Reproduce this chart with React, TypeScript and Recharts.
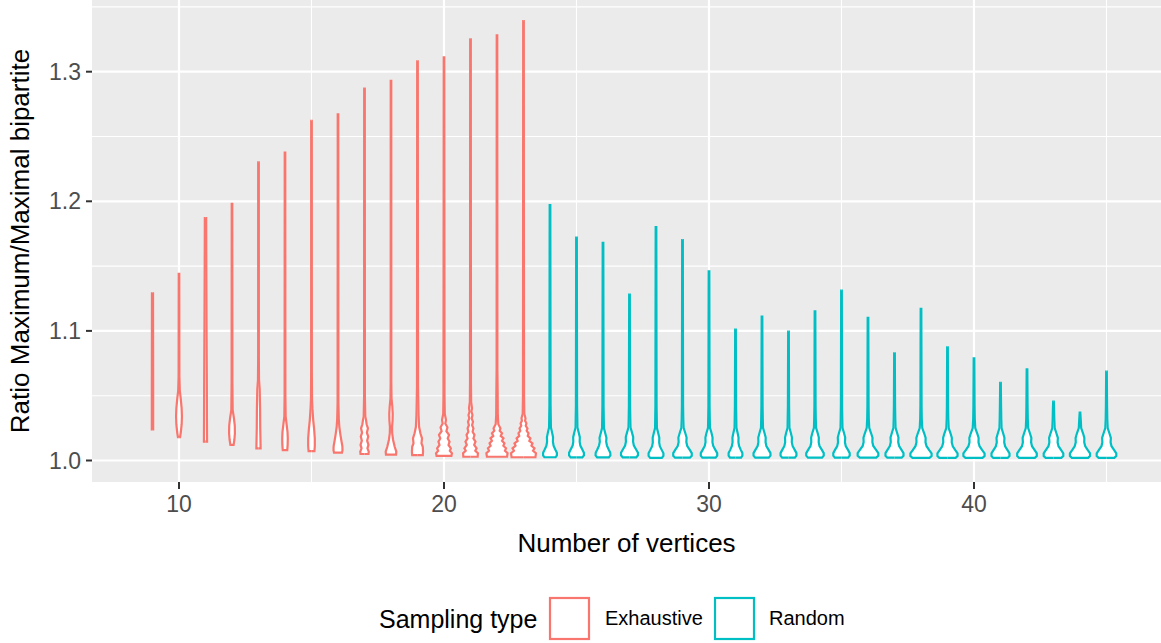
import { ComposedChart, Area, XAxis, YAxis, CartesianGrid, Label } from 'recharts';

// Violin outlines: each entry is [ratio, half width in vertices], bottom to top
const exhaustiveVertices = [9, 10, 11, 12, 13, 14, 15, 16, 17, 18, 19, 20, 21, 22, 23];
const randomVertices = [24, 25, 26, 27, 28, 29, 30, 31, 32, 33, 34, 35, 36, 37, 38, 39, 40, 41, 42, 43, 44, 45];

const exhaustiveProfiles: [number, number][][] = [
  [[1.024, 0.025], [1.06, 0.025], [1.1, 0.022], [1.129, 0.02]],
  [[1.018, 0.04], [1.022, 0.07], [1.028, 0.1], [1.034, 0.11], [1.04, 0.1], [1.047, 0.07], [1.054, 0.03], [1.065, 0.015], [1.144, 0.01]],
  [[1.0145, 0.06], [1.03, 0.055], [1.06, 0.05], [1.1, 0.04], [1.15, 0.03], [1.187, 0.025]],
  [[1.012, 0.06], [1.016, 0.09], [1.021, 0.11], [1.027, 0.105], [1.033, 0.07], [1.039, 0.025], [1.06, 0.015], [1.198, 0.01]],
  [[1.0094, 0.08], [1.015, 0.075], [1.025, 0.065], [1.04, 0.06], [1.055, 0.045], [1.062, 0.02], [1.08, 0.012], [1.23, 0.01]],
  [[1.008, 0.085], [1.012, 0.1], [1.017, 0.105], [1.022, 0.095], [1.028, 0.06], [1.034, 0.025], [1.05, 0.015], [1.2375, 0.01]],
  [[1.0073, 0.11], [1.011, 0.125], [1.017, 0.125], [1.024, 0.1], [1.031, 0.065], [1.04, 0.035], [1.047, 0.02], [1.07, 0.012], [1.262, 0.01]],
  [[1.006, 0.15], [1.008, 0.17], [1.011, 0.165], [1.015, 0.13], [1.02, 0.09], [1.026, 0.05], [1.032, 0.03], [1.045, 0.015], [1.267, 0.01]],
  [[1.005, 0.15], [1.0068, 0.16], [1.0094, 0.11], [1.012, 0.15], [1.0153, 0.1], [1.0184, 0.14], [1.0215, 0.09], [1.0248, 0.13], [1.028, 0.08], [1.031, 0.06], [1.034, 0.03], [1.05, 0.015], [1.287, 0.01]],
  [[1.0045, 0.19], [1.0068, 0.2], [1.0106, 0.14], [1.0158, 0.08], [1.021, 0.045], [1.026, 0.04], [1.031, 0.06], [1.036, 0.065], [1.0415, 0.05], [1.048, 0.02], [1.06, 0.012], [1.293, 0.01]],
  [[1.0042, 0.2], [1.0068, 0.21], [1.0106, 0.2], [1.0133, 0.15], [1.017, 0.17], [1.021, 0.11], [1.026, 0.06], [1.035, 0.04], [1.045, 0.03], [1.057, 0.02], [1.308, 0.01]],
  [[1.0035, 0.28], [1.0056, 0.3], [1.0075, 0.22], [1.0094, 0.26], [1.012, 0.17], [1.0145, 0.21], [1.017, 0.14], [1.0197, 0.19], [1.0226, 0.09], [1.0256, 0.13], [1.0285, 0.05], [1.0313, 0.075], [1.036, 0.03], [1.05, 0.02], [1.311, 0.01]],
  [[1.0029, 0.27], [1.0056, 0.28], [1.0075, 0.18], [1.0094, 0.23], [1.012, 0.14], [1.0145, 0.19], [1.017, 0.11], [1.0197, 0.15], [1.0222, 0.08], [1.0248, 0.11], [1.0273, 0.06], [1.0299, 0.094], [1.0325, 0.045], [1.0351, 0.075], [1.0377, 0.035], [1.0403, 0.057], [1.045, 0.025], [1.06, 0.018], [1.325, 0.01]],
  [[1.0029, 0.38], [1.0056, 0.4], [1.0075, 0.3], [1.0094, 0.34], [1.0114, 0.24], [1.0133, 0.28], [1.0152, 0.19], [1.0171, 0.245], [1.019, 0.14], [1.021, 0.19], [1.0229, 0.1], [1.0248, 0.13], [1.028, 0.05], [1.035, 0.03], [1.052, 0.025], [1.07, 0.015], [1.328, 0.01]],
  [[1.0025, 0.45], [1.0056, 0.47], [1.0075, 0.36], [1.0094, 0.415], [1.0114, 0.3], [1.0133, 0.34], [1.0152, 0.22], [1.0171, 0.26], [1.019, 0.16], [1.021, 0.19], [1.0229, 0.12], [1.0248, 0.15], [1.0268, 0.085], [1.0287, 0.11], [1.0307, 0.06], [1.0326, 0.075], [1.036, 0.03], [1.05, 0.02], [1.339, 0.01]],
];

const randomProfiles: [number, number][][] = [
  [[1.0025, 0.21], [1.004, 0.26], [1.006, 0.26], [1.0085, 0.2], [1.0115, 0.135], [1.0145, 0.11], [1.018, 0.115], [1.0215, 0.08], [1.0255, 0.035], [1.0325, 0.03], [1.0425, 0.022], [1.197, 0.012]],
  [[1.0024, 0.22], [1.004, 0.28], [1.006, 0.28], [1.0085, 0.22], [1.0115, 0.145], [1.0145, 0.12], [1.018, 0.125], [1.0215, 0.085], [1.0255, 0.035], [1.0325, 0.03], [1.0425, 0.022], [1.172, 0.012]],
  [[1.0024, 0.22], [1.004, 0.28], [1.006, 0.275], [1.0085, 0.215], [1.0115, 0.15], [1.0145, 0.12], [1.0175, 0.13], [1.021, 0.085], [1.025, 0.035], [1.032, 0.03], [1.042, 0.022], [1.168, 0.012]],
  [[1.0024, 0.255], [1.004, 0.32], [1.006, 0.32], [1.0085, 0.25], [1.0115, 0.165], [1.0145, 0.135], [1.018, 0.14], [1.0215, 0.095], [1.0255, 0.038], [1.0325, 0.03], [1.0425, 0.022], [1.128, 0.012]],
  [[1.002, 0.22], [1.0035, 0.28], [1.0055, 0.28], [1.008, 0.22], [1.011, 0.145], [1.014, 0.12], [1.0175, 0.125], [1.021, 0.085], [1.025, 0.035], [1.032, 0.03], [1.042, 0.022], [1.18, 0.012]],
  [[1.0022, 0.28], [1.0037, 0.35], [1.0057, 0.35], [1.0082, 0.275], [1.0112, 0.18], [1.0142, 0.145], [1.0177, 0.155], [1.0212, 0.105], [1.0252, 0.042], [1.0322, 0.03], [1.0422, 0.022], [1.17, 0.012]],
  [[1.0022, 0.25], [1.0037, 0.31], [1.0057, 0.31], [1.0082, 0.24], [1.0112, 0.16], [1.0142, 0.13], [1.0177, 0.135], [1.0212, 0.095], [1.0252, 0.037], [1.0322, 0.03], [1.0422, 0.022], [1.146, 0.012]],
  [[1.0022, 0.21], [1.0037, 0.26], [1.0057, 0.26], [1.0082, 0.2], [1.0112, 0.135], [1.0142, 0.11], [1.0177, 0.115], [1.0212, 0.08], [1.0252, 0.035], [1.0322, 0.03], [1.0422, 0.022], [1.101, 0.012]],
  [[1.0022, 0.255], [1.0037, 0.32], [1.0057, 0.32], [1.0082, 0.25], [1.0112, 0.165], [1.0142, 0.135], [1.0177, 0.14], [1.0212, 0.095], [1.0252, 0.038], [1.0322, 0.03], [1.0422, 0.022], [1.111, 0.012]],
  [[1.0022, 0.24], [1.0037, 0.3], [1.0057, 0.3], [1.0082, 0.235], [1.0112, 0.155], [1.0142, 0.125], [1.0177, 0.13], [1.0212, 0.09], [1.0252, 0.035], [1.0322, 0.03], [1.0422, 0.022], [1.0994, 0.012]],
  [[1.0022, 0.265], [1.0037, 0.33], [1.0057, 0.33], [1.0082, 0.26], [1.0112, 0.17], [1.0142, 0.14], [1.0177, 0.145], [1.0212, 0.1], [1.0252, 0.04], [1.0322, 0.03], [1.0422, 0.022], [1.115, 0.012]],
  [[1.0022, 0.25], [1.0037, 0.31], [1.0057, 0.31], [1.0082, 0.245], [1.0112, 0.16], [1.0142, 0.13], [1.0177, 0.14], [1.0212, 0.095], [1.0252, 0.037], [1.0322, 0.03], [1.0422, 0.022], [1.131, 0.012]],
  [[1.0022, 0.31], [1.0037, 0.39], [1.0057, 0.39], [1.0082, 0.305], [1.0112, 0.2], [1.0142, 0.165], [1.0177, 0.17], [1.0212, 0.115], [1.0252, 0.047], [1.0322, 0.03], [1.0422, 0.022], [1.11, 0.012]],
  [[1.0022, 0.27], [1.0037, 0.34], [1.0057, 0.34], [1.0082, 0.265], [1.0112, 0.175], [1.0142, 0.14], [1.0177, 0.15], [1.0212, 0.1], [1.0252, 0.04], [1.0322, 0.03], [1.0422, 0.022], [1.0827, 0.012]],
  [[1.002, 0.32], [1.0035, 0.4], [1.0055, 0.4], [1.008, 0.31], [1.011, 0.21], [1.014, 0.17], [1.0175, 0.175], [1.021, 0.12], [1.025, 0.048], [1.032, 0.03], [1.042, 0.022], [1.117, 0.012]],
  [[1.002, 0.305], [1.0035, 0.38], [1.0055, 0.38], [1.008, 0.295], [1.011, 0.2], [1.014, 0.16], [1.0175, 0.165], [1.021, 0.115], [1.025, 0.045], [1.032, 0.03], [1.042, 0.022], [1.0873, 0.012]],
  [[1.002, 0.32], [1.0035, 0.4], [1.0055, 0.4], [1.008, 0.31], [1.011, 0.21], [1.014, 0.17], [1.0175, 0.175], [1.021, 0.12], [1.025, 0.048], [1.032, 0.03], [1.042, 0.022], [1.0789, 0.012]],
  [[1.002, 0.27], [1.0035, 0.34], [1.0055, 0.34], [1.008, 0.265], [1.011, 0.175], [1.014, 0.14], [1.0175, 0.15], [1.021, 0.1], [1.025, 0.04], [1.032, 0.03], [1.042, 0.022], [1.06, 0.012]],
  [[1.002, 0.295], [1.0035, 0.37], [1.0055, 0.37], [1.008, 0.29], [1.011, 0.19], [1.014, 0.155], [1.0175, 0.165], [1.021, 0.11], [1.025, 0.045], [1.032, 0.03], [1.042, 0.022], [1.0704, 0.012]],
  [[1.002, 0.295], [1.0035, 0.37], [1.0055, 0.37], [1.008, 0.29], [1.011, 0.19], [1.014, 0.155], [1.0175, 0.165], [1.021, 0.11], [1.025, 0.045], [1.032, 0.03], [1.04, 0.022], [1.0454, 0.012]],
  [[1.002, 0.305], [1.0035, 0.38], [1.0055, 0.38], [1.008, 0.295], [1.011, 0.2], [1.014, 0.16], [1.0175, 0.165], [1.021, 0.115], [1.025, 0.045], [1.031, 0.03], [1.0369, 0.012]],
  [[1.002, 0.295], [1.0035, 0.37], [1.0055, 0.37], [1.008, 0.29], [1.011, 0.19], [1.014, 0.155], [1.0175, 0.165], [1.021, 0.11], [1.025, 0.045], [1.032, 0.03], [1.042, 0.022], [1.0685, 0.012]],
];

const xTicks = [10, 20, 30, 40];
const xMinor = [15, 25, 35, 45];
const yTicks = [1.0, 1.1, 1.2, 1.3];
const yMinor = [1.05, 1.15, 1.25, 1.35];

const EXHAUSTIVE = '#F8766D';
const RANDOM = '#00BFC4';
const FONT = '"Liberation Sans", Arial, Helvetica, sans-serif';

// close each outline at its ends so the flat trimmed bottom is stroked too
const toOutline = (n: number, profile: [number, number][]) => {
  const first = profile[0];
  const last = profile[profile.length - 1];
  return [
    { y: first[0], x: [n, n] },
    ...profile.map(([r, w]) => ({ y: r, x: [n - w, n + w] })),
    { y: last[0], x: [n, n] },
  ];
};

const violins = [
  ...exhaustiveVertices.map((n, i) => ({ n, color: EXHAUSTIVE, data: toOutline(n, exhaustiveProfiles[i]) })),
  ...randomVertices.map((n, i) => ({ n, color: RANDOM, data: toOutline(n, randomProfiles[i]) })),
];

const YTitle = ({ viewBox }: any) => {
  const cx = viewBox.x + 29;
  const cy = viewBox.y + viewBox.height / 2;
  return (
    <text x={cx} y={cy} transform={`rotate(-90, ${cx}, ${cy})`} textAnchor="middle" fontSize={26} fill="#000" fontFamily={FONT}>
      Ratio Maximum/Maximal bipartite
    </text>
  );
};

const XTitle = ({ viewBox }: any) => (
  <text x={viewBox.x + viewBox.width / 2} y={viewBox.y + 70} textAnchor="middle" fontSize={26} fill="#000" fontFamily={FONT}>
    Number of vertices
  </text>
);

export default function App() {
  return (
    <div style={{ position: 'absolute', left: 0, top: 0, width: 1161, height: 643, background: '#fff', fontFamily: FONT }}>
      <ComposedChart width={1161} height={643} layout="vertical" margin={{ top: 0, right: 0, bottom: 91, left: 0 }}>
        <CartesianGrid fill="#EBEBEB" stroke="#FFFFFF" strokeWidth={1.1} horizontalValues={yMinor} verticalValues={xMinor} />
        <CartesianGrid stroke="#FFFFFF" strokeWidth={2.2} horizontalValues={yTicks} verticalValues={xTicks} />
        <XAxis
          type="number"
          domain={[6.717, 47.057]}
          allowDataOverflow
          ticks={xTicks}
          height={70}
          tickSize={7}
          tickMargin={7}
          axisLine={false}
          tickLine={{ stroke: '#333333', strokeWidth: 2 }}
          tick={{ fill: '#4D4D4D', fontSize: 23, fontFamily: FONT }}
        >
          <Label content={<XTitle />} />
        </XAxis>
        <YAxis
          type="number"
          dataKey="y"
          reversed
          domain={[0.98341, 1.35532]}
          allowDataOverflow
          ticks={yTicks}
          width={92}
          tickSize={6}
          tickMargin={5}
          axisLine={false}
          tickLine={{ stroke: '#333333', strokeWidth: 2 }}
          tick={{ fill: '#4D4D4D', fontSize: 23, fontFamily: FONT }}
          tickFormatter={(v: number) => v.toFixed(1)}
        >
          <Label content={<YTitle />} />
        </YAxis>
        {violins.map((v) => (
          <Area
            key={v.n}
            data={v.data}
            dataKey="x"
            type="linear"
            stroke={v.color}
            strokeWidth={2.2}
            fill="#FFFFFF"
            fillOpacity={1}
            dot={false}
            activeDot={false}
            legendType="none"
            isAnimationActive={false}
          />
        ))}
      </ComposedChart>
      <svg width={1161} height={643} style={{ position: 'absolute', left: 0, top: 0, pointerEvents: 'none' }}>
        <text x={379} y={628} fontSize={25} fill="#000" fontFamily={FONT}>Sampling type</text>
        <rect x={550} y={598} width={39} height={41} fill="#FFFFFF" stroke={EXHAUSTIVE} strokeWidth={2.2} />
        <text x={605} y={625} fontSize={20} fill="#000" fontFamily={FONT}>Exhaustive</text>
        <rect x={715} y={598} width={39} height={41} fill="#FFFFFF" stroke={RANDOM} strokeWidth={2.2} />
        <text x={769} y={625} fontSize={20} fill="#000" fontFamily={FONT}>Random</text>
      </svg>
    </div>
  );
}
